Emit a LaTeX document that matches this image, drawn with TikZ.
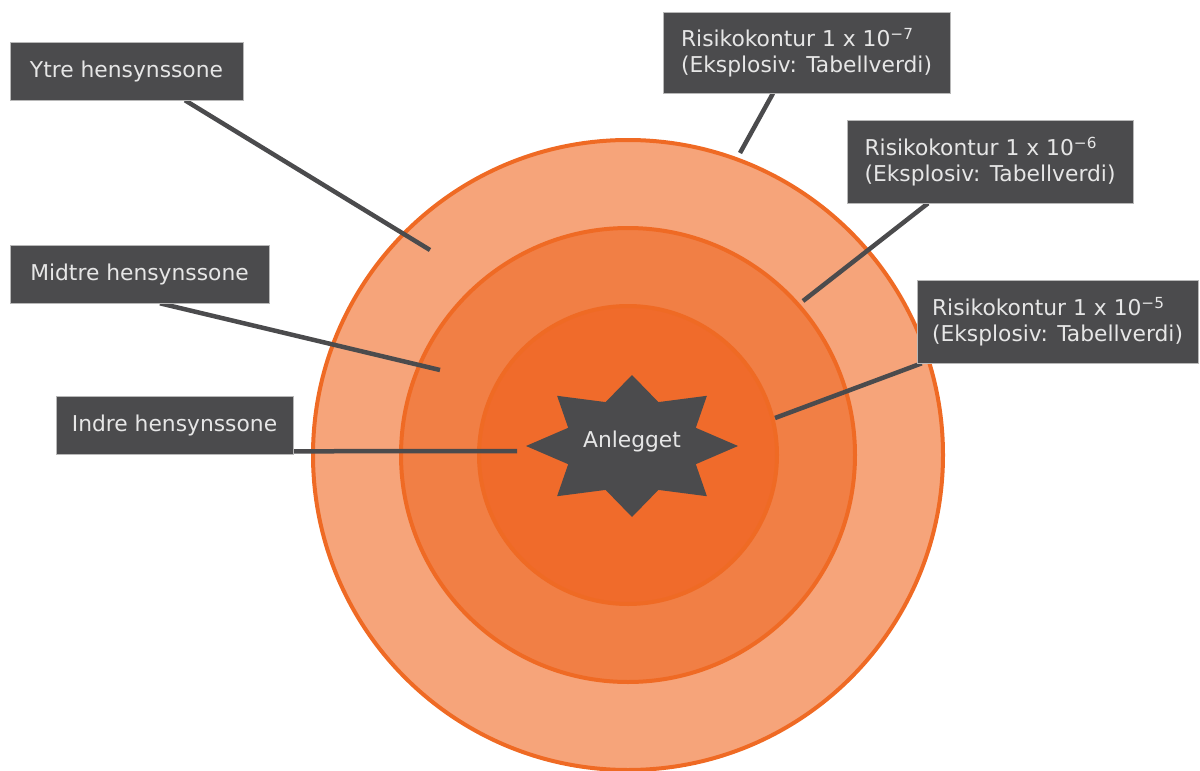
\documentclass[tikz,border=0pt]{standalone}
\usepackage{fontspec}
\setmainfont{DejaVu Sans}
\usetikzlibrary{calc}
\definecolor{ringstroke}{HTML}{EF6A24}
\definecolor{ringouter}{HTML}{F6A47A}
\definecolor{ringmid}{HTML}{F17F45}
\definecolor{ringinner}{HTML}{F06B2B}
\definecolor{boxfill}{HTML}{4B4B4D}
\definecolor{boxedge}{HTML}{B8B8B8}
\definecolor{boxtext}{HTML}{E6E6E6}
\definecolor{leader}{HTML}{4B4B4D}
\begin{document}
\begin{tikzpicture}[x=1pt,y=-1pt,
  ring/.style={draw=ringstroke,line width=4pt},
  labelbox/.style={rectangle,fill=boxfill,draw=boxedge,line width=0.6pt,
    text=boxtext,align=left,inner sep=0pt,
    font=\fontsize{21.8}{26}\selectfont},
  leaderline/.style={draw=leader,line width=4.5pt},
  starfill/.style={fill=boxfill}]
\useasboundingbox (0,0) rectangle (1200,771);
% rings
\coordinate (c) at (628,455);
\fill[ringouter] (c) circle[radius=315];
\draw[ring] (c) circle[radius=315];
\fill[ringmid] (c) circle[radius=227];
\draw[ring] (c) circle[radius=227];
\fill[ringinner] (c) circle[radius=149];
\draw[ring] (c) circle[radius=149];
% label boxes (placed first so connectors can reference them, drawn later on top)
\path
  node[labelbox,minimum width=233,minimum height=58] (ytre) at (126.5,71) {Ytre hensynssone}
  node[labelbox,minimum width=259,minimum height=58] (midtre) at (139.5,274) {Midtre hensynssone}
  node[labelbox,minimum width=237,minimum height=58] (indre) at (174.5,425) {Indre hensynssone}
  node[labelbox,minimum width=287,minimum height=81] (r7) at (806.5,52.5) {Risikokontur 1 x 10\textsuperscript{−7}\\(Eksplosiv: Tabellverdi)}
  node[labelbox,minimum width=286,minimum height=83] (r6) at (990,161.5) {Risikokontur 1 x 10\textsuperscript{−6}\\(Eksplosiv: Tabellverdi)}
  node[labelbox,minimum width=281,minimum height=83] (r5) at (1057.5,321.5) {Risikokontur 1 x 10\textsuperscript{−5}\\(Eksplosiv: Tabellverdi)};
% connector ends
\coordinate (ytreEnd) at (430,250);
\coordinate (midtreEnd) at (440,370);
\coordinate (indreEnd) at (517,451);
\coordinate (r7End) at (740,153);
\coordinate (r6End) at (803,301);
\coordinate (r5End) at (775,418);
\draw[leaderline] ([xshift=58.5pt]ytre.south) -- (ytreEnd);
\draw[leaderline] ([xshift=20.5pt]midtre.south) -- (midtreEnd);
\draw[leaderline] ([yshift=3pt]indre.south east) -- (indreEnd);
\draw[leaderline] ([xshift=-33.5pt]r7.south) -- (r7End);
\draw[leaderline] ([xshift=-62pt]r6.south) -- (r6End);
\draw[leaderline] ([xshift=5pt]r5.south west) -- (r5End);
% star
\fill[starfill] (738,446) -- (695.8,427.8) -- (706.9,395.8) -- (658.4,402.1)
  -- (632,375) -- (605.6,402.1) -- (557.1,395.8) -- (568.2,427.8)
  -- (526,446) -- (568.2,464.2) -- (557.1,496.2) -- (605.6,489.9)
  -- (632,517) -- (658.4,489.9) -- (706.9,496.2) -- (695.8,464.2) -- cycle;
\node[text=boxtext,font=\fontsize{21.8}{26}\selectfont,inner sep=0pt] (anlegget) at (632,441) {Anlegget};
% redraw boxes on top of connectors
\path
  node[labelbox,minimum width=233,minimum height=58] at (ytre) {Ytre hensynssone}
  node[labelbox,minimum width=259,minimum height=58] at (midtre) {Midtre hensynssone}
  node[labelbox,minimum width=237,minimum height=58] at (indre) {Indre hensynssone}
  node[labelbox,minimum width=287,minimum height=81] at (r7) {Risikokontur 1 x 10\textsuperscript{−7}\\(Eksplosiv: Tabellverdi)}
  node[labelbox,minimum width=286,minimum height=83] at (r6) {Risikokontur 1 x 10\textsuperscript{−6}\\(Eksplosiv: Tabellverdi)}
  node[labelbox,minimum width=281,minimum height=83] at (r5) {Risikokontur 1 x 10\textsuperscript{−5}\\(Eksplosiv: Tabellverdi)};
\end{tikzpicture}
\end{document}
